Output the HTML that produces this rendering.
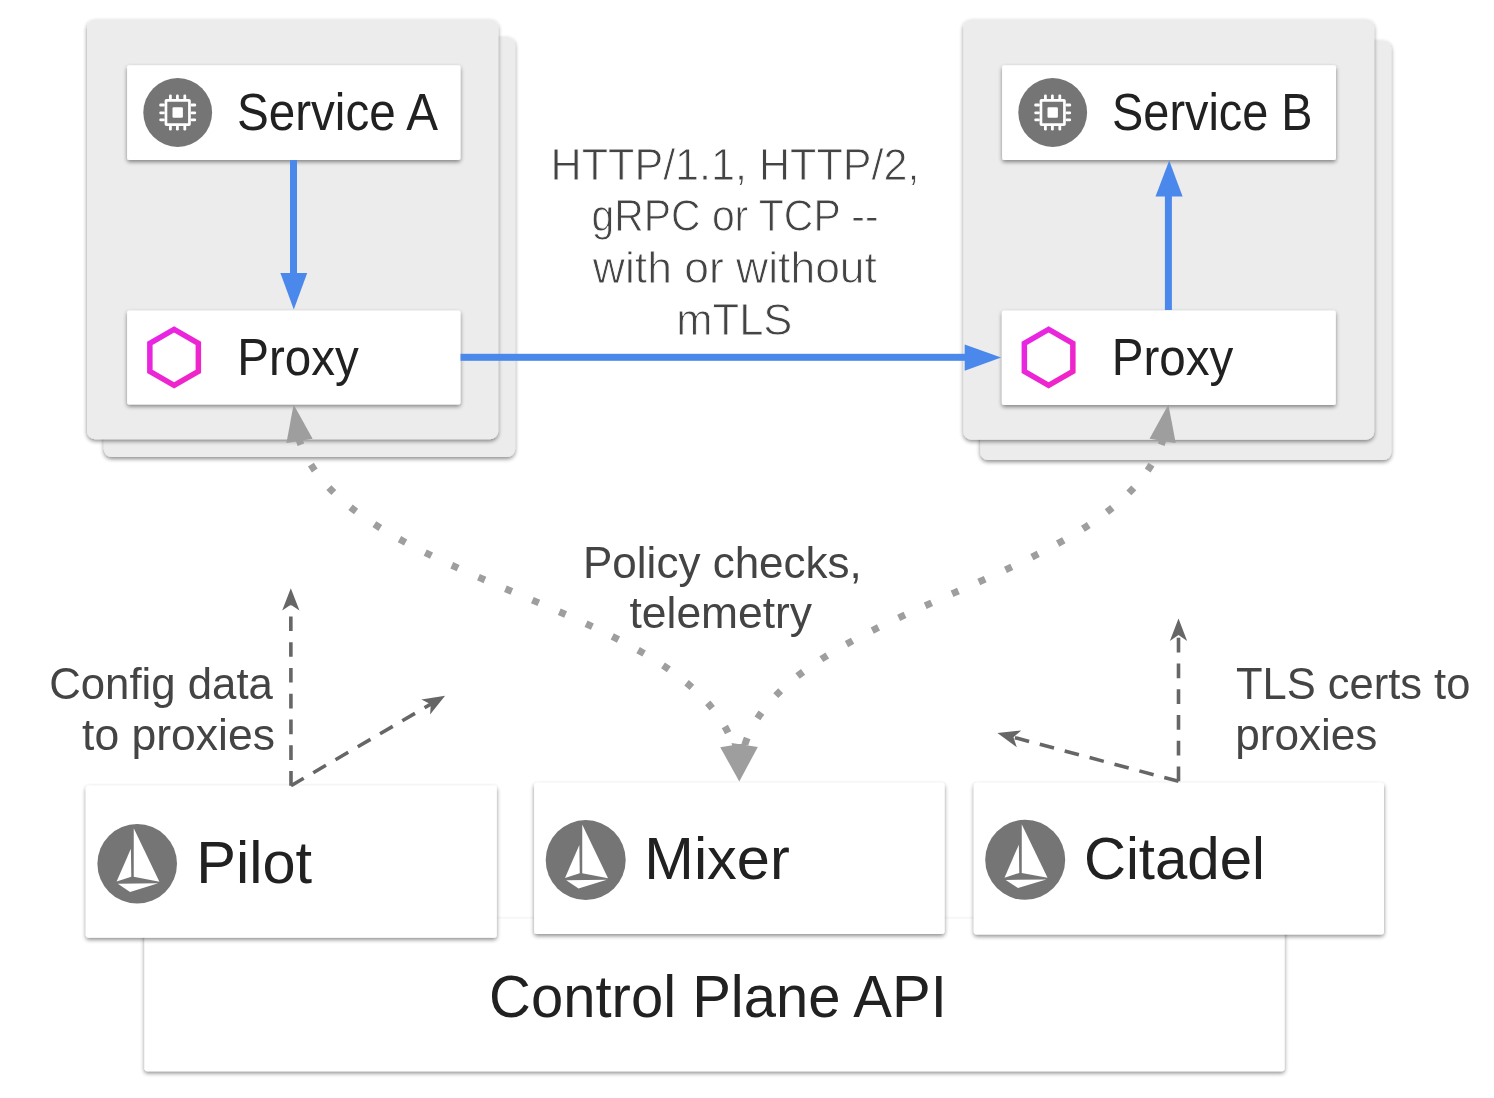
<!DOCTYPE html><html><head><meta charset="utf-8"><title>Istio architecture</title><style>html,body{margin:0;padding:0;background:#fff;overflow:hidden}svg{display:block}text{font-family:"Liberation Sans", sans-serif}.t{opacity:.999}</style></head><body>
<svg width="1494" height="1098" viewBox="0 0 1494 1098">
<defs>
<filter id="sh" x="-5%" y="-5%" width="110%" height="115%"><feGaussianBlur in="SourceAlpha" stdDeviation="2.2"/><feOffset dx="0" dy="2" result="o"/><feComponentTransfer><feFuncA type="linear" slope="0.46"/></feComponentTransfer><feMerge><feMergeNode/><feMergeNode in="SourceGraphic"/></feMerge></filter>
<linearGradient id="hg" x1="0" y1="0" x2="1" y2="1"><stop offset="0" stop-color="#e626e8"/><stop offset="1" stop-color="#f125c4"/></linearGradient>
</defs>
<rect x="103.8" y="36.9" width="411.3" height="420.1" rx="8" fill="#ececec" filter="url(#sh)"/>
<rect x="87" y="19.6" width="411.3" height="419.6" rx="8" fill="#ececec" filter="url(#sh)"/>
<rect x="980.2" y="40.5" width="411.1" height="419.6" rx="8" fill="#ececec" filter="url(#sh)"/>
<rect x="963.4" y="19.6" width="410.8" height="420.1" rx="8" fill="#ececec" filter="url(#sh)"/>
<rect x="127.1" y="65.2" width="333.4" height="94.8" rx="2" fill="#fff" filter="url(#sh)"/>
<rect x="127.1" y="310.5" width="333.4" height="94.1" rx="2" fill="#fff" filter="url(#sh)"/>
<rect x="1002.1" y="65.2" width="333.9" height="94.8" rx="2" fill="#fff" filter="url(#sh)"/>
<rect x="1001.9" y="310.5" width="333.9" height="94.5" rx="2" fill="#fff" filter="url(#sh)"/>
<circle cx="177.7" cy="112.5" r="34.4" fill="#757575"/>
<g transform="translate(177.7 112.5)" fill="#fff">
<path fill-rule="evenodd" d="M-11.3,-13.5h22.6a1.8,1.8 0 0 1 1.8,1.8v23.4a1.8,1.8 0 0 1 -1.8,1.8h-22.6a1.8,1.8 0 0 1 -1.8,-1.8v-23.4a1.8,1.8 0 0 1 1.8,-1.8z M-10.4,-10.8v21.6h20.8v-21.6z"/>
<rect x="-5.2" y="-5.3" width="10.4" height="10.5" rx="1.2"/>
<rect x="-8.7" y="-17.9" width="2.8" height="5" rx="1.2"/>
<rect x="-8.7" y="12.9" width="2.8" height="5" rx="1.2"/>
<rect x="-1.7" y="-17.9" width="2.8" height="5" rx="1.2"/>
<rect x="-1.7" y="12.9" width="2.8" height="5" rx="1.2"/>
<rect x="5.7" y="-17.9" width="2.8" height="5" rx="1.2"/>
<rect x="5.7" y="12.9" width="2.8" height="5" rx="1.2"/>
<rect x="-18.4" y="-8.9" width="5.5" height="2.8" rx="1.2"/>
<rect x="12.9" y="-8.9" width="5.5" height="2.8" rx="1.2"/>
<rect x="-18.4" y="-1.1" width="5.5" height="2.8" rx="1.2"/>
<rect x="12.9" y="-1.1" width="5.5" height="2.8" rx="1.2"/>
<rect x="-18.4" y="6" width="5.5" height="2.8" rx="1.2"/>
<rect x="12.9" y="6" width="5.5" height="2.8" rx="1.2"/>
</g>
<circle cx="1052.7" cy="112.5" r="34.4" fill="#757575"/>
<g transform="translate(1052.7 112.5)" fill="#fff">
<path fill-rule="evenodd" d="M-11.3,-13.5h22.6a1.8,1.8 0 0 1 1.8,1.8v23.4a1.8,1.8 0 0 1 -1.8,1.8h-22.6a1.8,1.8 0 0 1 -1.8,-1.8v-23.4a1.8,1.8 0 0 1 1.8,-1.8z M-10.4,-10.8v21.6h20.8v-21.6z"/>
<rect x="-5.2" y="-5.3" width="10.4" height="10.5" rx="1.2"/>
<rect x="-8.7" y="-17.9" width="2.8" height="5" rx="1.2"/>
<rect x="-8.7" y="12.9" width="2.8" height="5" rx="1.2"/>
<rect x="-1.7" y="-17.9" width="2.8" height="5" rx="1.2"/>
<rect x="-1.7" y="12.9" width="2.8" height="5" rx="1.2"/>
<rect x="5.7" y="-17.9" width="2.8" height="5" rx="1.2"/>
<rect x="5.7" y="12.9" width="2.8" height="5" rx="1.2"/>
<rect x="-18.4" y="-8.9" width="5.5" height="2.8" rx="1.2"/>
<rect x="12.9" y="-8.9" width="5.5" height="2.8" rx="1.2"/>
<rect x="-18.4" y="-1.1" width="5.5" height="2.8" rx="1.2"/>
<rect x="12.9" y="-1.1" width="5.5" height="2.8" rx="1.2"/>
<rect x="-18.4" y="6" width="5.5" height="2.8" rx="1.2"/>
<rect x="12.9" y="6" width="5.5" height="2.8" rx="1.2"/>
</g>
<polygon points="174.1,329.4 198.35,343.4 198.35,371.4 174.1,385.4 149.85,371.4 149.85,343.4" fill="none" stroke="url(#hg)" stroke-width="5.5" stroke-linejoin="miter"/>
<polygon points="1048.6,329.4 1072.85,343.4 1072.85,371.4 1048.6,385.4 1024.35,371.4 1024.35,343.4" fill="none" stroke="url(#hg)" stroke-width="5.5" stroke-linejoin="miter"/>
<g fill="#4a88ec">
<rect x="290" y="160" width="7" height="115"/>
<polygon points="280.4,273.1 307.2,273.1 293.8,309.5"/>
<rect x="460.5" y="353.8" width="505" height="7"/>
<polygon points="964.7,344.5 964.7,370.7 1001.1,357.5"/>
<rect x="1164.9" y="195" width="7" height="115"/>
<polygon points="1155.5,196.4 1182.6,196.4 1169.2,160.5"/>
</g>
<rect x="144.4" y="918.7" width="1140.2" height="152.6" rx="3" fill="#fff" filter="url(#sh)"/>
<rect x="85.8" y="785.5" width="411" height="152.2" rx="3" fill="#fff" filter="url(#sh)"/>
<rect x="534.1" y="782.7" width="410.5" height="151.4" rx="3" fill="#fff" filter="url(#sh)"/>
<rect x="973.8" y="782.7" width="410.2" height="151.8" rx="3" fill="#fff" filter="url(#sh)"/>
<g transform="translate(137.2 863.8) scale(0.9950)">
<circle r="40" fill="#757575"/>
<g fill="#fff"><polygon points="-3.48,-35.66 22.34,18.03 -3.48,13.11"/><polygon points="-6.35,-15.16 -20.7,17.87 -5.94,13.11"/><polygon points="-19.47,20.08 21.1,19.67 -7.17,28.28"/></g>
</g>
<g transform="translate(585.7 860.1) scale(1.0000)">
<circle r="40" fill="#757575"/>
<g fill="#fff"><polygon points="-3.48,-35.66 22.34,18.03 -3.48,13.11"/><polygon points="-6.35,-15.16 -20.7,17.87 -5.94,13.11"/><polygon points="-19.47,20.08 21.1,19.67 -7.17,28.28"/></g>
</g>
<g transform="translate(1025.2 859.8) scale(1.0000)">
<circle r="40" fill="#757575"/>
<g fill="#fff"><polygon points="-3.48,-35.66 22.34,18.03 -3.48,13.11"/><polygon points="-6.35,-15.16 -20.7,17.87 -5.94,13.11"/><polygon points="-19.47,20.08 21.1,19.67 -7.17,28.28"/></g>
</g>
<path d="M295.26,424.51 C324.89,593.02 740.17,601.18 739.3,781.5" fill="none" stroke="#9e9e9e" stroke-width="7" stroke-dasharray="7 22.24" stroke-dashoffset="44.43"/>
<path d="M1166.8,424.33 C1138.21,592.3 735.93,602.14 739.3,781.5" fill="none" stroke="#9e9e9e" stroke-width="7" stroke-dasharray="7 22.24" stroke-dashoffset="44.35"/>
<polygon points="293.6,404.5 312.61,438.79 286.45,443.05" fill="#9e9e9e"/>
<polygon points="1168.4,404.4 1175.72,442.92 1149.55,438.78" fill="#9e9e9e"/>
<polygon points="739.3,781.5 720.23,747.25 746.37,742.94" fill="#9e9e9e"/>
<polygon points="739.3,781.5 731.58,743.06 757.8,746.93" fill="#9e9e9e"/>
<line x1="291" y1="785.7" x2="290.82" y2="604.8" stroke="#666666" stroke-width="3.6" stroke-dasharray="14.7 11.07"/>
<polygon points="290.8,588.2 299.47,610.59 290.82,604.8 282.17,610.61" fill="#666666"/>
<line x1="291" y1="785.7" x2="430.76" y2="704.16" stroke="#666666" stroke-width="3.6" stroke-dasharray="14.7 11.07"/>
<polygon points="445.1,695.8 430.11,714.56 430.76,704.16 421.39,699.62" fill="#666666"/>
<line x1="1178.5" y1="781.3" x2="1178.5" y2="635.1" stroke="#666666" stroke-width="3.6" stroke-dasharray="14.7 11.07"/>
<polygon points="1178.5,618.5 1187.15,640.9 1178.5,635.1 1169.85,640.9" fill="#666666"/>
<line x1="1178.5" y1="781.3" x2="1013.44" y2="737.28" stroke="#666666" stroke-width="3.6" stroke-dasharray="14.7 11.07"/>
<polygon points="997.4,733 1021.27,730.41 1013.44,737.28 1016.81,747.13" fill="#666666"/>
<g class="t">
<text transform="translate(236.96 130.1) scale(0.9341 1)" font-size="51" fill="#212121">Service A</text>
<text transform="translate(237.2 375) scale(0.9325 1)" font-size="51" fill="#212121">Proxy</text>
<text transform="translate(1112.09 130) scale(0.9189 1)" font-size="51" fill="#212121">Service B</text>
<text transform="translate(1111.8 375) scale(0.9325 1)" font-size="51" fill="#212121">Proxy</text>
<text transform="translate(550.6 180.35) scale(0.9691 1)" font-size="44.5" fill="#444444" stroke="#fff" stroke-width="0.9">HTTP/1.1, HTTP/2,</text>
<text transform="translate(591.41 231.45) scale(0.9193 1)" font-size="44.5" fill="#444444" stroke="#fff" stroke-width="0.9">gRPC or TCP --</text>
<text transform="translate(592.85 282.85) scale(0.9988 1)" font-size="44.5" fill="#444444" stroke="#fff" stroke-width="0.9">with or without</text>
<text transform="translate(676.32 334.65) scale(0.9780 1)" font-size="44.5" fill="#444444" stroke="#fff" stroke-width="0.9">mTLS</text>
<text transform="translate(582.98 578.2) scale(1.0008 1)" font-size="44" fill="#444444">Policy checks,</text>
<text transform="translate(629.53 628.4) scale(1.0090 1)" font-size="44" fill="#444444">telemetry</text>
<text transform="translate(49.21 698.8) scale(0.9939 1)" font-size="44" fill="#444444">Config data</text>
<text transform="translate(82.03 750) scale(1.0115 1)" font-size="44" fill="#444444">to proxies</text>
<text transform="translate(1235.93 698.5) scale(0.9884 1)" font-size="44" fill="#444444">TLS certs to</text>
<text transform="translate(1235.13 750.4) scale(1.0036 1)" font-size="44" fill="#444444">proxies</text>
<text transform="translate(196.34 882.6) scale(0.9919 1)" font-size="60" fill="#212121">Pilot</text>
<text transform="translate(644.34 879.2) scale(0.9915 1)" font-size="60" fill="#212121">Mixer</text>
<text transform="translate(1083.89 879.2) scale(0.9699 1)" font-size="60" fill="#212121">Citadel</text>
<text transform="translate(489.1 1016.5) scale(0.9665 1)" font-size="60" fill="#212121">Control Plane API</text>
</g>
</svg></body></html>
